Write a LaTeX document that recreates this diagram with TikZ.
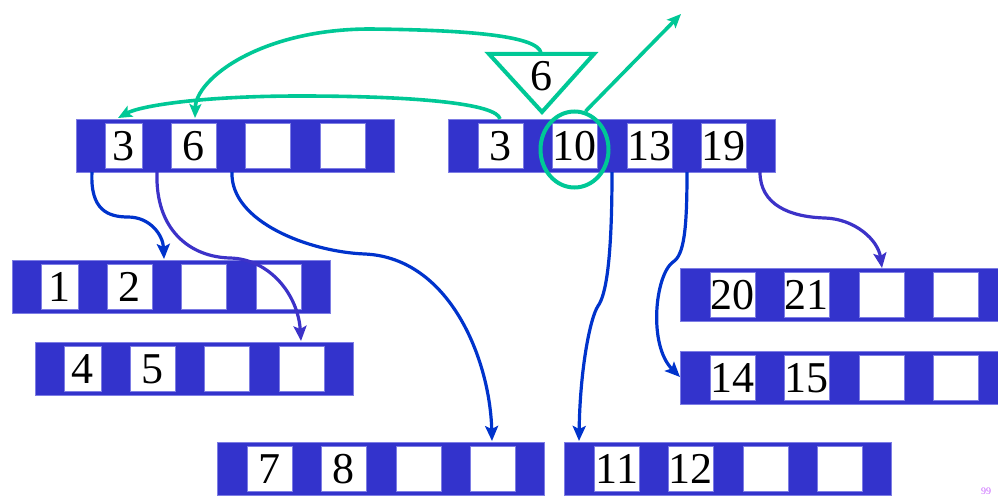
\documentclass[tikz,border=0pt]{standalone}
\usepackage{fontspec}
\setmainfont{Liberation Serif}
\usetikzlibrary{arrows.meta,calc,shapes.geometric}
\definecolor{barblue}{RGB}{51,51,204}
\definecolor{edgeblue}{RGB}{125,125,228}
\definecolor{arrblue}{RGB}{0,51,204}
\definecolor{arrviolet}{RGB}{60,50,200}
\definecolor{mygreen}{RGB}{0,200,150}
\definecolor{pinkv}{RGB}{200,100,255}
\newcommand{\bnodeA}[7]{%
 \node[barbox, minimum width=327pt] (#1) at (#2,#3) {};
 \node[slot] (#1-1) at ({#2+30},{#3+4}) {#4};
 \node[slot] (#1-2) at ({#2+104},{#3+4}) {#5};
 \node[slot] (#1-3) at ({#2+179},{#3+4}) {#6};
 \node[slot] (#1-4) at ({#2+253},{#3+4}) {#7};
}
\newcommand{\bnodeB}[7]{%
 \node[barbox, minimum width=318pt] (#1) at (#2,#3) {};
 \node[slot, minimum width=37pt] (#1-1) at ({#2+29},{#3+4}) {#4};
 \node[slot] (#1-2) at ({#2+95},{#3+4}) {#5};
 \node[slot] (#1-3) at ({#2+169},{#3+4}) {#6};
 \node[slot] (#1-4) at ({#2+244},{#3+4}) {#7};
}
\begin{document}
\begin{tikzpicture}[x=1pt,y=-1pt,
  barbox/.style={fill=barblue, draw=edgeblue, line width=0.8pt, minimum height=53pt, inner sep=0pt, anchor=north west},
  slot/.style={fill=white, draw=edgeblue, line width=0.8pt, minimum height=45pt, minimum width=45pt, inner sep=0pt, anchor=north west, font=\fontsize{44}{44}\selectfont},
  bluearrow/.style={draw=arrblue, line width=3.2pt, -{Stealth[length=15pt,width=13pt,inset=3pt]}},
  violetarrow/.style={draw=arrviolet, line width=3.2pt, -{Stealth[length=15pt,width=13pt,inset=3pt]}},
  greenline/.style={draw=mygreen, line width=4pt},
  greenarrow/.style={draw=mygreen, line width=3.6pt, -{Stealth[length=14pt,width=12pt,inset=3pt]}}]
\useasboundingbox (0,0) rectangle (998,495);

% nodes
\bnodeB{tl}{76}{119}{3}{6}{}{}
\bnodeA{tr}{448}{119}{3}{10}{13}{19}
\bnodeB{la}{12}{260}{1}{2}{}{}
\bnodeB{lb}{35}{342}{4}{5}{}{}
\bnodeA{lc}{217}{442}{7}{8}{}{}
\bnodeA{ld}{564}{442}{11}{12}{}{}
\bnodeA{le}{680}{351}{14}{15}{}{}
\bnodeA{lf}{680}{268}{20}{21}{}{}

% triangle with 6
\coordinate (tA) at (489,54);
\coordinate (tB) at (594,54);
\coordinate (tC) at (542,112);
\draw[greenline, fill=white, line join=miter] (tA) -- (tB) -- (tC) -- cycle;
\node[font=\fontsize{44}{44}\selectfont, inner sep=0pt] (tri6) at (541.5,76) {6};
\coordinate (tritop) at (541,53);

% ellipse around 10
\node[draw=mygreen, line width=4pt, ellipse, minimum width=68pt, minimum height=76pt, inner sep=0pt] (circ) at (574.5,149.5) {};

% green arrows
\coordinate (g1e) at (195,118);
\draw[greenarrow] (tritop) .. controls (538,36) and (470,30) .. (370,29) .. controls (262,29) and (196,78) .. (g1e);
\coordinate (g2s) at (500,119);
\coordinate (g2e) at (118,118);
\draw[greenarrow] (g2s) .. controls (497,104) and (420,96) .. (300,96) .. controls (200,96) and (140,106) .. (g2e);
\coordinate (g3e) at (681,14);
\draw[greenarrow] (circ.74) -- (g3e);

% blue arrows
\coordinate (a0) at (92,172); \coordinate (a1) at (164,259);
\draw[bluearrow] (a0) .. controls (90,210) and (108,217) .. (128,217) .. controls (150,217) and (163,235) .. (a1);
\coordinate (b0) at (157,172); \coordinate (b1) at (301,341);
\draw[violetarrow] (b0) .. controls (155,230) and (190,257) .. (230,258) .. controls (270,259) and (298,295) .. (b1);
\coordinate (c0) at (232,172); \coordinate (c1) at (492,441);
\draw[bluearrow] (c0) .. controls (230,222) and (310,252) .. (365,254) .. controls (450,258) and (490,360) .. (c1);
\coordinate (d0) at (612,172); \coordinate (d1) at (579,441);
\draw[bluearrow] (d0) .. controls (612,260) and (606,295) .. (598,306) .. controls (590,318) and (580,370) .. (d1);
\coordinate (e0) at (687,172); \coordinate (e1) at (680,377);
\draw[bluearrow] (e0) .. controls (687,230) and (684,255) .. (673,262) .. controls (655,275) and (648,345) .. (e1);
\coordinate (f0) at (760,172); \coordinate (f1) at (882,268);
\draw[violetarrow] (f0) .. controls (760,205) and (790,217) .. (825,218) .. controls (855,219) and (878,240) .. (f1);

% page mark
\node[anchor=base, text=pinkv, font=\fontsize{10}{10}\selectfont, inner sep=0pt] (pg) at (986,494) {99};
\end{tikzpicture}
\end{document}
